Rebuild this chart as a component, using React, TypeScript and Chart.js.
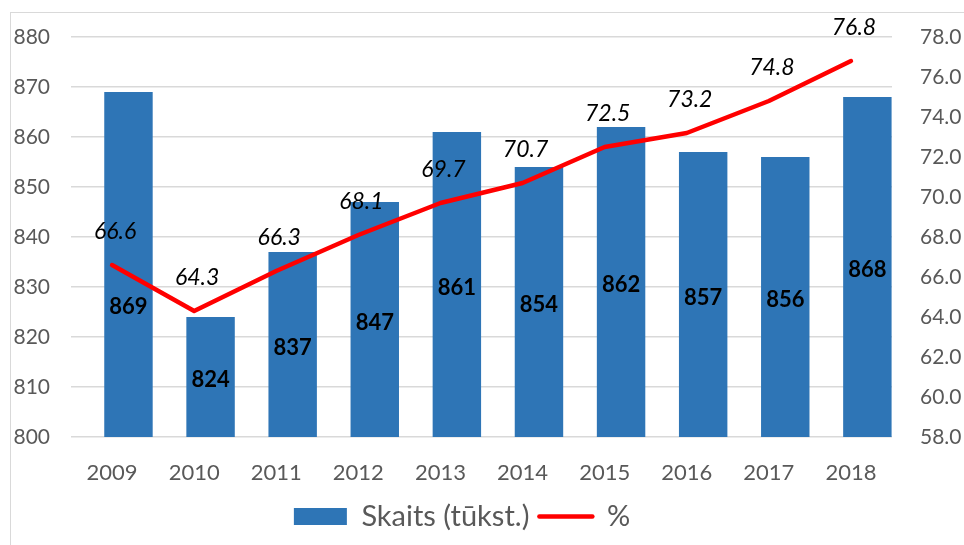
import React, { useEffect, useRef } from "react";
import { Chart, registerables } from "chart.js";

Chart.register(...registerables);

const years = ["2009", "2010", "2011", "2012", "2013", "2014", "2015", "2016", "2017", "2018"];
const counts = [869, 824, 837, 847, 861, 854, 862, 857, 856, 868];
const percents = [66.6, 64.3, 66.3, 68.1, 69.7, 70.7, 72.5, 73.2, 74.8, 76.8];
const countLabel = "Skaits (tūkst.)";
const pctLabel = "%";

const FONT = "Lato, 'Open Sans', sans-serif";
const BAR_COLOR = "#2E75B6";
const LINE_COLOR = "#FF0000";
const GRID_COLOR = "#d9d9d9";
const TEXT_COLOR = "#595959";
const BAR_SHIFT = 0.2; // bars sit slightly right of the category ticks, as in the source

const shiftBars = {
  id: "shiftBars",
  afterLayout(chart: any) {
    const xb = chart.scales.xb;
    const x = chart.scales.x;
    const step = (x.right - x.left) / years.length;
    xb.left = x.left + step * BAR_SHIFT;
    xb.right = x.right + step * BAR_SHIFT;
    xb.width = xb.right - xb.left;
    xb.configure();
  },
};

const valueLabels = {
  id: "valueLabels",
  afterDatasetsDraw(chart: any) {
    const ctx = chart.ctx;
    const barMeta = chart.getDatasetMeta(0);
    const lineMeta = chart.getDatasetMeta(1);
    const ys = chart.scales.y;
    const base = ys.getPixelForValue(ys.min);
    ctx.save();
    ctx.textAlign = "center";
    ctx.textBaseline = "middle";
    ctx.fillStyle = "#000";
    ctx.font = `bold 22px ${FONT}`;
    barMeta.data.forEach((bar: any, i: number) => {
      const top = ys.getPixelForValue(counts[i]);
      let cy = (top + base) / 2 + 3;
      if (i === 0) cy += 39;
      ctx.fillText(String(counts[i]), bar.x, cy);
    });
    ctx.font = `italic 23px ${FONT}`;
    lineMeta.data.forEach((pt: any, i: number) => {
      ctx.fillText(percents[i].toFixed(1), pt.x + 3, pt.y - 33);
    });
    ctx.restore();
  },
};

export default function App() {
  const ref = useRef<HTMLCanvasElement | null>(null);
  useEffect(() => {
    if (!ref.current) return;
    const chart = new Chart(ref.current, {
      type: "bar",
      data: {
        labels: years,
        datasets: [
          {
            type: "bar",
            label: countLabel,
            data: counts,
            xAxisID: "xb",
            yAxisID: "y",
            backgroundColor: BAR_COLOR,
            categoryPercentage: 1,
            barPercentage: 0.59,
            grouped: false,
            order: 1,
          } as any,
          {
            type: "line",
            label: pctLabel,
            data: percents,
            xAxisID: "x",
            yAxisID: "y1",
            borderColor: LINE_COLOR,
            backgroundColor: LINE_COLOR,
            borderWidth: 4.5,
            pointRadius: 0,
            borderCapStyle: "round",
            borderJoinStyle: "round",
            tension: 0,
            order: 0,
          } as any,
        ],
      },
      options: {
        responsive: false,
        animation: false,
        events: [],
        layout: { padding: { top: 37, right: 0, bottom: 4, left: -40 } },
        plugins: {
          tooltip: { enabled: false },
          legend: {
            position: "bottom",
            labels: {
              usePointStyle: true,
              pointStyleWidth: 53,
              boxHeight: 17,
              padding: 10,
              color: TEXT_COLOR,
              font: { family: FONT, size: 29 },
              sort: (a: any, b: any) => a.datasetIndex - b.datasetIndex,
              generateLabels: (c: any) => {
                const items = Chart.defaults.plugins.legend.labels.generateLabels(c);
                return items.map((it: any) => {
                  if (it.datasetIndex === 0) {
                    return { ...it, pointStyle: "rect", fillStyle: BAR_COLOR, strokeStyle: BAR_COLOR, lineWidth: 0 };
                  }
                  return { ...it, pointStyle: "line", strokeStyle: LINE_COLOR, fillStyle: LINE_COLOR, lineWidth: 4.5, lineCap: "round" };
                });
              },
            },
          },
        },
        scales: {
          x: {
            type: "category",
            position: "bottom",
            offset: true,
            grid: { display: false, drawTicks: false },
            border: { display: false },
            ticks: { color: TEXT_COLOR, font: { family: FONT, size: 22 }, padding: 23 },
            afterFit: (s: any) => { s.height = 55; },
          },
          xb: {
            type: "category",
            position: "bottom",
            display: false,
            offset: true,
          },
          y: {
            position: "left",
            min: 800,
            max: 880,
            ticks: { stepSize: 10, color: TEXT_COLOR, font: { family: FONT, size: 21 }, padding: 21 },
            grid: { color: GRID_COLOR, lineWidth: 1.5, drawTicks: false },
            border: { display: false },
            afterFit: (s: any) => { s.width = 111; s.paddingTop = 12; s.paddingBottom = 12; },
          },
          y1: {
            position: "right",
            min: 58,
            max: 78,
            ticks: {
              stepSize: 2,
              color: TEXT_COLOR,
              font: { family: FONT, size: 21 },
              padding: 28,
              callback: (v: any) => Number(v).toFixed(1),
            },
            grid: { display: false, drawTicks: false },
            border: { display: false },
            afterFit: (s: any) => { s.width = 72; s.paddingTop = 12; s.paddingBottom = 12; },
          },
        } as any,
      },
      plugins: [shiftBars, valueLabels],
    });
    return () => chart.destroy();
  }, []);

  return (
    <div style={{ position: "fixed", left: 0, top: 0, width: 964, height: 545, background: "#fff", overflow: "hidden" }}>
      <div
        style={{
          position: "absolute",
          left: 10,
          top: 12,
          width: 1000,
          height: 600,
          borderLeft: `1px solid ${GRID_COLOR}`,
          borderTop: `1px solid ${GRID_COLOR}`,
        }}
      />
      <canvas ref={ref} width={964} height={545} style={{ position: "absolute", left: 0, top: 0, width: 964, height: 545 }} />
    </div>
  );
}
